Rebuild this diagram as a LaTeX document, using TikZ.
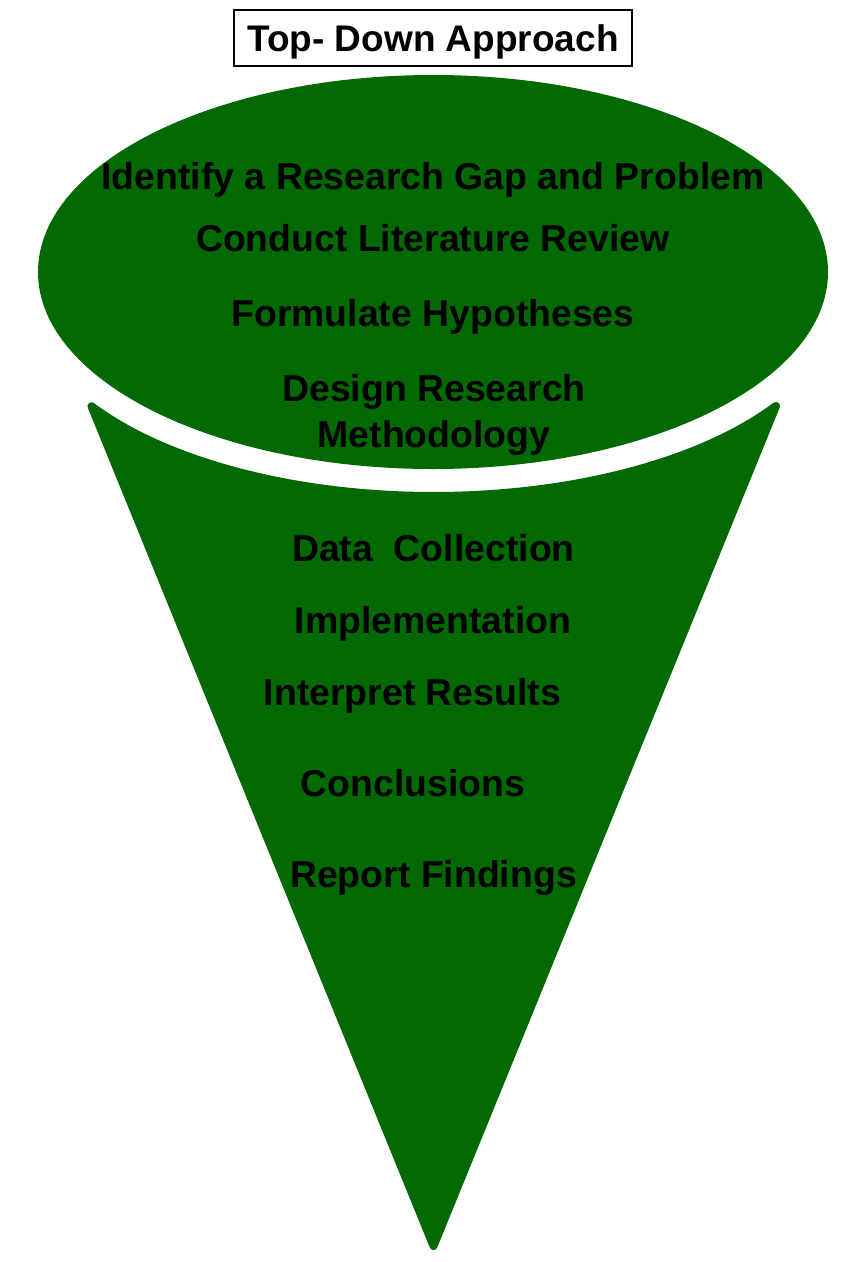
\documentclass[tikz,border=0pt]{standalone}
\usepackage{fontspec}
\setmainfont{Liberation Sans}
\begin{document}
\definecolor{funnelgreen}{RGB}{3,106,3}
\begin{tikzpicture}[x=1pt,y=-1pt,
  lbl/.style={anchor=base,inner sep=0pt,font=\fontsize{37.4}{46}\selectfont\bfseries,align=center,text=black},
  titlebox/.style={draw=black,line width=1.2pt,fill=white,minimum width=398pt,minimum height=56pt,
    text height=26.5pt,text depth=0pt,inner sep=0pt,font=\fontsize{37}{44}\selectfont\bfseries}]
\useasboundingbox (0,0) rectangle (864,1262);

% upper oval
\fill[funnelgreen] (433,272) ellipse [x radius=395, y radius=197];

% lower cone, top edge curved parallel to the oval
\filldraw[funnelgreen,line width=8pt,line join=round]
  (433.5,1246) -- (776,406)
  -- plot[domain=32.83:147.17,samples=80,smooth] ({433.5+407*cos(\x)},{300+196*sin(\x)})
  -- cycle;

% title
\node[titlebox] (title) at (433,38) {Top- Down Approach};

% steps in the oval
\node[lbl] (gap) at (433,189) {Identify a Research Gap and Problem};
\node[lbl] (lit) at (433,251) {Conduct Literature Review};
\node[lbl] (hyp) at (433,326) {Formulate Hypotheses};
\node[lbl] (des) at (434,447) {Design Research\\Methodology};

% steps in the cone
\node[lbl] (data) at (433.5,561) {Data\ \ Collection};
\node[lbl] (impl) at (433,633) {Implementation};
\node[lbl] (interp) at (412.5,705) {Interpret Results};
\node[lbl] (concl) at (413,796) {Conclusions};
\node[lbl] (report) at (433.5,887) {Report Findings};
\end{tikzpicture}
\end{document}
